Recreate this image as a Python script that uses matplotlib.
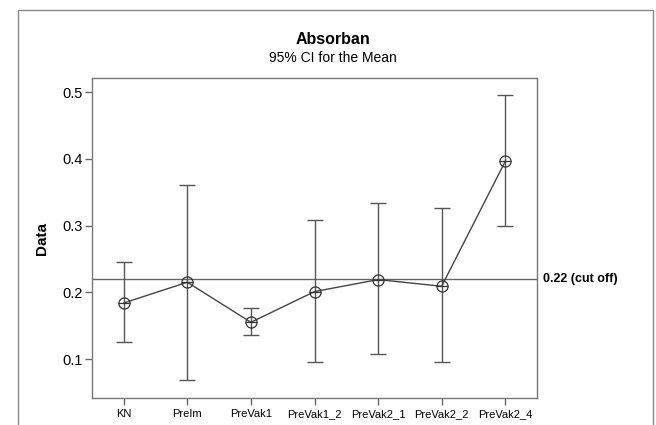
import matplotlib
matplotlib.use("Agg")
import matplotlib.pyplot as plt
from matplotlib.patches import Rectangle
import numpy as np

plt.rcParams['font.family'] = ['Liberation Sans', 'DejaVu Sans']

categories = ["KN", "PreIm", "PreVak1", "PreVak1_2", "PreVak2_1", "PreVak2_2", "PreVak2_4"]
means = [0.184, 0.215, 0.155, 0.201, 0.219, 0.209, 0.396]
upper = [0.245, 0.361, 0.177, 0.309, 0.333, 0.326, 0.496]
lower = [0.125, 0.068, 0.136, 0.096, 0.108, 0.095, 0.300]
cutoff = 0.22
yticks = [0.1, 0.2, 0.3, 0.4, 0.5]

W, H = 656, 425
fig = plt.figure(figsize=(W / 100, H / 100), dpi=100)
ax = fig.add_axes([92 / W, 1 - 398 / H, (537 - 92) / W, (398 - 78) / H])

x = np.arange(len(categories))
m = np.array(means)
yerr = [m - np.array(lower), np.array(upper) - m]

ax.errorbar(x, m, yerr=yerr, fmt='none', ecolor='#555555', elinewidth=1.0,
            capsize=6, capthick=1.0, zorder=2)
ax.plot(x, m, color='#444444', lw=1.0, zorder=3)
ax.plot(x, m, linestyle='none', marker='o', markersize=8, markerfacecolor='none',
        markeredgecolor='#333333', markeredgewidth=0.9, zorder=4)
ax.plot(x, m, linestyle='none', marker='_', markersize=8,
        markeredgecolor='#333333', markeredgewidth=0.9, zorder=4)
ax.axhline(cutoff, color='#666666', lw=1.0, zorder=1)
ax.text(1.013, cutoff, "0.22 (cut off)", transform=ax.get_yaxis_transform(),
        fontsize=9, fontweight='bold', va='center', ha='left', clip_on=False)

ax.set_xlim(-0.5, 6.5)
ax.set_ylim(0.0416, 0.521)
ax.set_xticks(x)
ax.set_xticklabels(categories, fontsize=8)
ax.set_yticks(yticks)
ax.set_yticklabels([str(v) for v in yticks], fontsize=10.5)
ax.tick_params(axis='both', direction='out', length=5, width=1, color='#666666')
ax.tick_params(axis='x', pad=3)
ax.tick_params(axis='y', pad=2)
for s in ax.spines.values():
    s.set_color('#777777')
    s.set_linewidth(1.0)

ax.set_ylabel("Data", fontsize=11, fontweight='bold', labelpad=9)

fig.text(333 / W, 1 - 40 / H, "Absorban", fontsize=11.5, fontweight='bold', ha='center', va='center')
fig.text(333 / W, 1 - 58 / H, "95% CI for the Mean", fontsize=10, ha='center', va='center')

fig.patches.append(Rectangle((18 / W, -0.1), (653 - 18) / W, 1.1 - 10 / H,
                             transform=fig.transFigure, fill=False,
                             edgecolor='#888888', lw=1.0))

fig.savefig("out.png", dpi=100)
